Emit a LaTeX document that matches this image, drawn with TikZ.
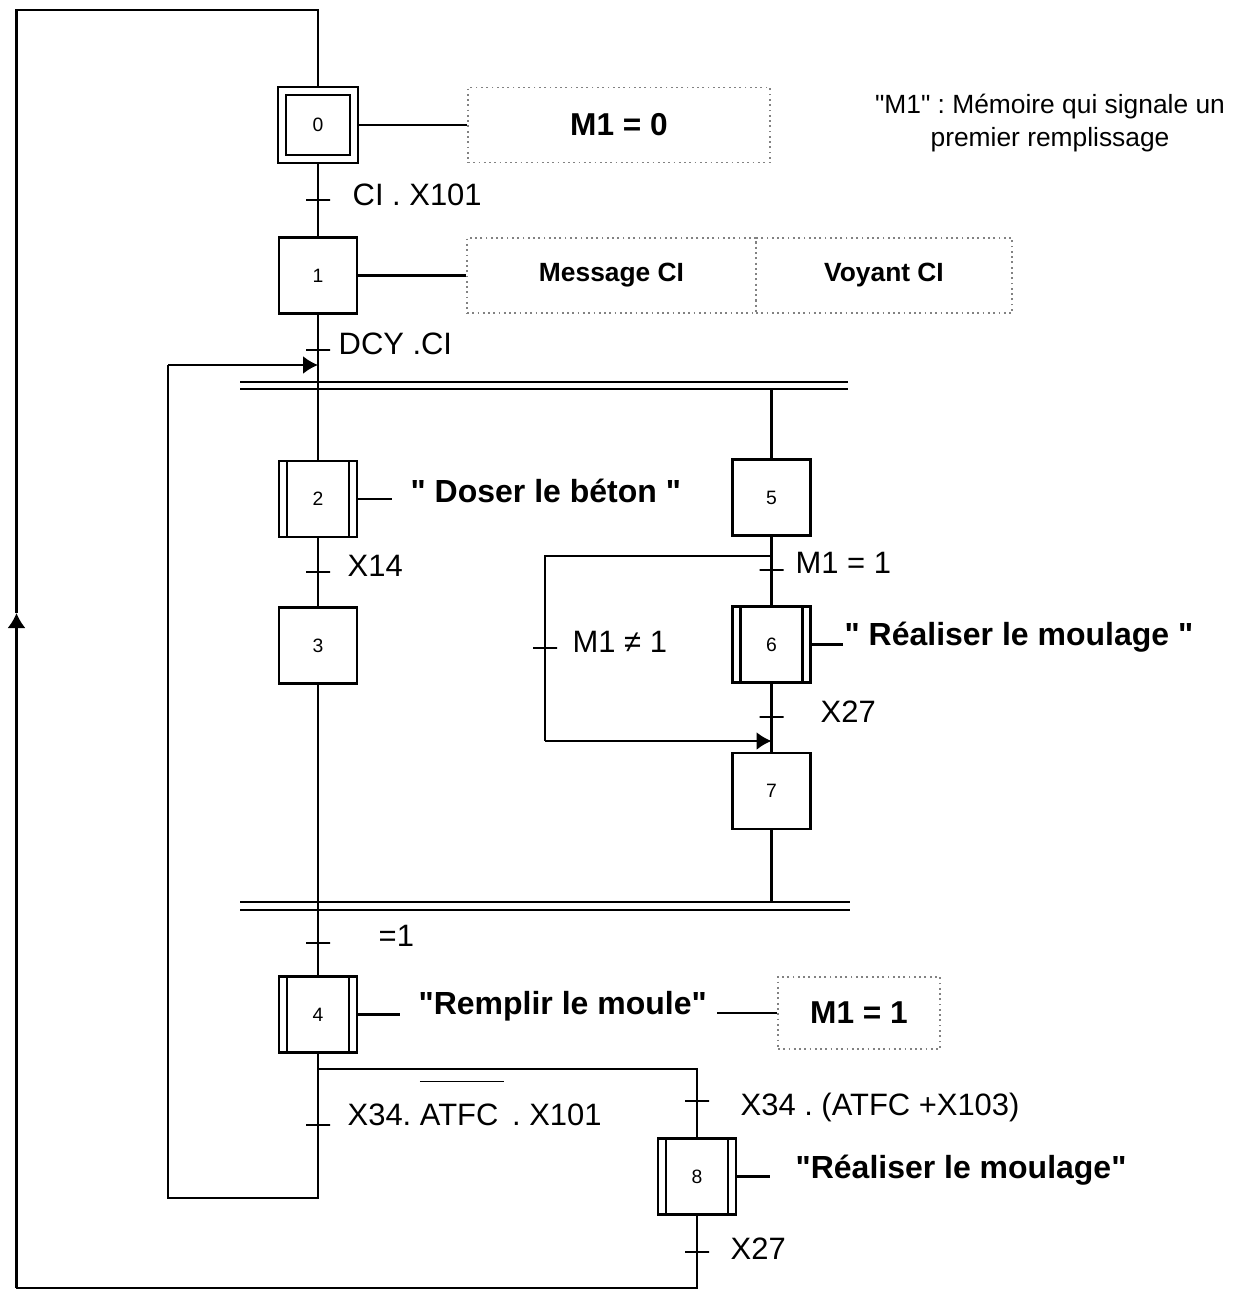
\documentclass[tikz,border=0pt]{standalone}
\usepackage{fontspec}
\setmainfont{Liberation Sans}[Ligatures=TeXOff]
\usetikzlibrary{positioning,arrows.meta}
\definecolor{cadre}{RGB}{130,130,130}
\tikzset{
  etape/.style={draw, line width=0.8pt, minimum width=0.78cm, minimum height=0.76cm,
    inner sep=0pt, font=\fontsize{5.5}{6}\selectfont},
  etapeinit/.style={etape, double, double distance=1.55pt, line width=0.7pt,
    minimum width=0.72cm, minimum height=0.68cm, outer sep=0.045cm},
  macro/.style={etape, path picture={
      \draw[line width=0.6pt] ([xshift=0.08cm]path picture bounding box.north west)
        -- ([xshift=0.08cm]path picture bounding box.south west);
      \draw[line width=0.6pt] ([xshift=-0.08cm]path picture bounding box.north east)
        -- ([xshift=-0.08cm]path picture bounding box.south east);}},
  trans/.style={draw, line width=0.6pt, minimum width=0.24cm, minimum height=0pt, inner sep=0pt},
  recep/.style={font=\fontsize{8.8}{10}\selectfont, anchor=base west, inner sep=0pt},
  ordre/.style={font=\fontsize{9.1}{11}\selectfont\bfseries, anchor=base west, inner sep=0pt},
  action/.style={draw=cadre, densely dotted, line width=0.5pt, minimum height=0.75cm, inner sep=0pt,
    font=\fontsize{9}{11}\selectfont\bfseries},
  petite/.style={font=\fontsize{7.5}{9}\selectfont\bfseries},
  note/.style={font=\fontsize{7.5}{9.4}\selectfont, align=center, inner sep=0pt},
  lien/.style={line width=0.6pt},
  fleche/.style={lien, -{Latex[length=1.5mm, width=1.8mm]}},
  barre/.style={line width=0.6pt},
}

\begin{document}
\frenchspacing
\begin{tikzpicture}
  \useasboundingbox (0,0) rectangle (12.36,-12.90);

  % --- etapes ---
  \node[etapeinit] (e0) at (3.18,-1.25) {0};
  \node[etape] (e1) at (3.18,-2.755) {1};
  \node[macro] (e2) at (3.18,-4.99) {2};
  \node[etape] (e3) at (3.18,-6.455) {3};
  \node[macro] (e4) at (3.18,-10.145) {4};
  \node[etape] (e5) at (7.715,-4.975) {5};
  \node[macro] (e6) at (7.715,-6.445) {6};
  \node[etape] (e7) at (7.715,-7.91) {7};
  \node[macro] (e8) at (6.97,-11.765) {8};

  % --- transitions + receptivites ---
  \node[trans] (t01) at (3.18,-2.00) {};
  \node[recep] (r01) at (3.52,-2.05) {CI . X101};
  \node[trans] (t12) at (3.18,-3.50) {};
  \node[recep] (r12) at (3.38,-3.54) {DCY .CI};
  \node[trans] (t23) at (3.18,-5.72) {};
  \node[recep] (r23) at (3.47,-5.76) {X14};
  \node[trans] (t34) at (3.18,-9.43) {};
  \node[recep] (r34) at (3.78,-9.46) {=1};
  \node[trans] (t56) at (7.715,-5.70) {};
  \node[recep] (r56) at (7.95,-5.73) {M1 = 1};
  \node[trans] (t57) at (5.45,-6.48) {};
  \node[recep] (r57) at (5.72,-6.52) {M1 ≠ 1};
  \node[trans] (t67) at (7.715,-7.17) {};
  \node[recep] (r67) at (8.20,-7.22) {X27};
  \node[trans] (t42) at (3.18,-11.25) {};
  \node[recep] (r42) at (3.47,-11.25) {X34. $\overline{\mbox{\rule{0pt}{1.25em}ATFC\,}}$ . X101};
  \node[trans] (t48) at (6.97,-11.01) {};
  \node[recep] (r48) at (7.40,-11.15) {X34 . (ATFC +X103)};
  \node[trans] (t80) at (6.97,-12.52) {};
  \node[recep] (r80) at (7.30,-12.59) {X27};

  % --- doubles barres (parallele) ---
  \coordinate (pA1) at (2.40,-3.82); \coordinate (pB1) at (8.48,-3.82);
  \coordinate (pA2) at (2.40,-3.89); \coordinate (pB2) at (8.48,-3.89);
  \coordinate (pC1) at (2.40,-9.02); \coordinate (pD1) at (8.50,-9.02);
  \coordinate (pC2) at (2.40,-9.10); \coordinate (pD2) at (8.50,-9.10);
  \draw[barre] (pA1) -- (pB1);
  \draw[barre] (pA2) -- (pB2);
  \draw[barre] (pC1) -- (pD1);
  \draw[barre] (pC2) -- (pD2);

  % --- liaisons branche gauche ---
  \draw[lien] (e0) -- (t01) -- (e1);
  \draw[lien] (e1) -- (t12) -- (e2);
  \draw[lien] (e2) -- (t23) -- (e3);
  \draw[lien] (e3) -- (t34) -- (e4);

  % --- liaisons branche droite ---
  \coordinate (j5) at (7.715,-3.89);
  \coordinate (j7) at (7.715,-9.02);
  \draw[lien] (j5) -- (e5);
  \draw[lien] (e5) -- (t56) -- (e6);
  \draw[lien] (e6) -- (t67) -- (e7);
  \draw[lien] (e7) -- (j7);

  % saut de l'etape 6
  \coordinate (sA) at (7.715,-5.56);
  \coordinate (sB) at (5.45,-5.56);
  \coordinate (sC) at (5.45,-7.41);
  \coordinate (sD) at (7.715,-7.41);
  \draw[lien] (sA) -- (sB) -- (t57) -- (sC);
  \draw[fleche] (sC) -- (sD);

  % --- divergence en OU sous l'etape 4 ---
  \coordinate (d4) at (3.18,-10.69);
  \coordinate (d8) at (6.97,-10.69);
  \draw[lien] (d4) -- (d8) -- (t48) -- (e8);

  % reprise vers l'etape 2
  \coordinate (b1) at (3.18,-11.98);
  \coordinate (b2) at (1.68,-11.98);
  \coordinate (b3) at (1.68,-3.65);
  \coordinate (b4) at (3.18,-3.65);
  \draw[lien] (e4) -- (t42) -- (b1) -- (b2) -- (b3);
  \draw[fleche] (b3) -- (b4);

  % retour a l'etape initiale
  \coordinate (c1) at (6.97,-12.88);
  \coordinate (c2) at (0.165,-12.88);
  \coordinate (c3) at (0.165,-6.13);
  \coordinate (c4) at (0.165,-0.10);
  \coordinate (c5) at (3.18,-0.10);
  \draw[lien] (e8) -- (t80) -- (c1) -- (c2);
  \draw[fleche] (c2) -- (c3);
  \draw[lien] (c3) -- (c4) -- (c5) -- (e0);

  % --- actions ---
  \node[action, minimum width=3.02cm] (a0) at (6.19,-1.25) {M1 = 0};
  \draw[lien] (e0) -- (a0);
  \node[action, petite, minimum width=2.89cm] (a1a) at (6.115,-2.755) {Message CI};
  \node[action, petite, minimum width=2.56cm] (a1b) at (8.84,-2.755) {Voyant CI};
  \draw[lien] (e1) -- (a1a);

  \coordinate (o2g) at (3.92,-4.99);
  \draw[lien] (e2) -- (o2g);
  \node[ordre] (o2) at (4.10,-5.02) {" Doser le béton "};

  \coordinate (o6g) at (8.43,-6.445);
  \draw[lien] (e6) -- (o6g);
  \node[ordre] (o6) at (8.44,-6.45) {" Réaliser le moulage "};

  \coordinate (o4g) at (4.00,-10.145);
  \draw[lien] (e4) -- (o4g);
  \node[ordre] (o4) at (4.18,-10.14) {"Remplir le moule"};
  \node[action, minimum width=1.62cm, minimum height=0.72cm] (a4) at (8.59,-10.13) {M1 = 1};
  \coordinate (o4d) at (7.17,-10.13);
  \draw[lien] (o4d) -- (a4);

  \coordinate (o8g) at (7.70,-11.765);
  \draw[lien] (e8) -- (o8g);
  \node[ordre] (o8) at (7.95,-11.78) {"Réaliser le moulage"};

  % --- note ---
  \node[note] (n0) at (10.50,-1.235) {"M1" : Mémoire qui signale un\\premier remplissage};
\end{tikzpicture}
\end{document}
